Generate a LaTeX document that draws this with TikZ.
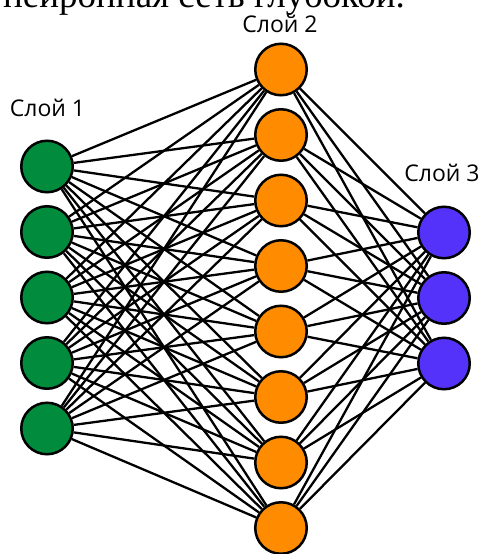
\documentclass[tikz,border=0pt]{standalone}
\usepackage{fontspec}
\setmainfont{Liberation Serif}
\setsansfont{Open Sans}
\usepackage{xcolor}
\usepackage{tikz}
\usetikzlibrary{positioning}
\definecolor{inGreen}{RGB}{0, 140, 60}
\definecolor{hidOrange}{RGB}{255, 140, 0}
\definecolor{outBlue}{RGB}{85, 50, 250}

\begin{document}
\begin{tikzpicture}[
    x=1pt, y=-1pt,
    neuron/.style={circle, draw=black, line width=2.5pt, minimum size=51.5pt, inner sep=0pt},
    wire/.style={line width=2.3pt, black},
    lbl/.style={font=\fontsize{23}{26}\selectfont\sffamily, anchor=base, inner sep=0pt}
]
\useasboundingbox (0,0) rectangle (481,554);
\clip (0,0) rectangle (481,554);

\node[font=\fontsize{37}{40}\selectfont\rmfamily, anchor=base east, inner sep=0pt] (caption) at (405,7.5) {нейронная сеть глубокой.};

\foreach \i in {1,...,5}
    \node[neuron, fill=inGreen] (a\i) at (47, {166.5+65.5*(\i-1)}) {};
\foreach \j in {1,...,8}
    \node[neuron, fill=hidOrange] (b\j) at (281, {69.5+65.5*(\j-1)}) {};
\foreach \k in {1,...,3}
    \node[neuron, fill=outBlue] (c\k) at (444, {232.5+65.5*(\k-1)}) {};

\node[lbl] (t1) at (47.5,116.7) {Слой 1};
\node[lbl] (t2) at (280,32) {Слой 2};
\node[lbl] (t3) at (442,181.7) {Слой 3};

\foreach \i in {1,...,5}
    \foreach \j in {1,...,8}
        \draw[wire] (a\i) -- (b\j);
\foreach \j in {1,...,8}
    \foreach \k in {1,...,3}
        \draw[wire] (b\j) -- (c\k);
\end{tikzpicture}
\end{document}
